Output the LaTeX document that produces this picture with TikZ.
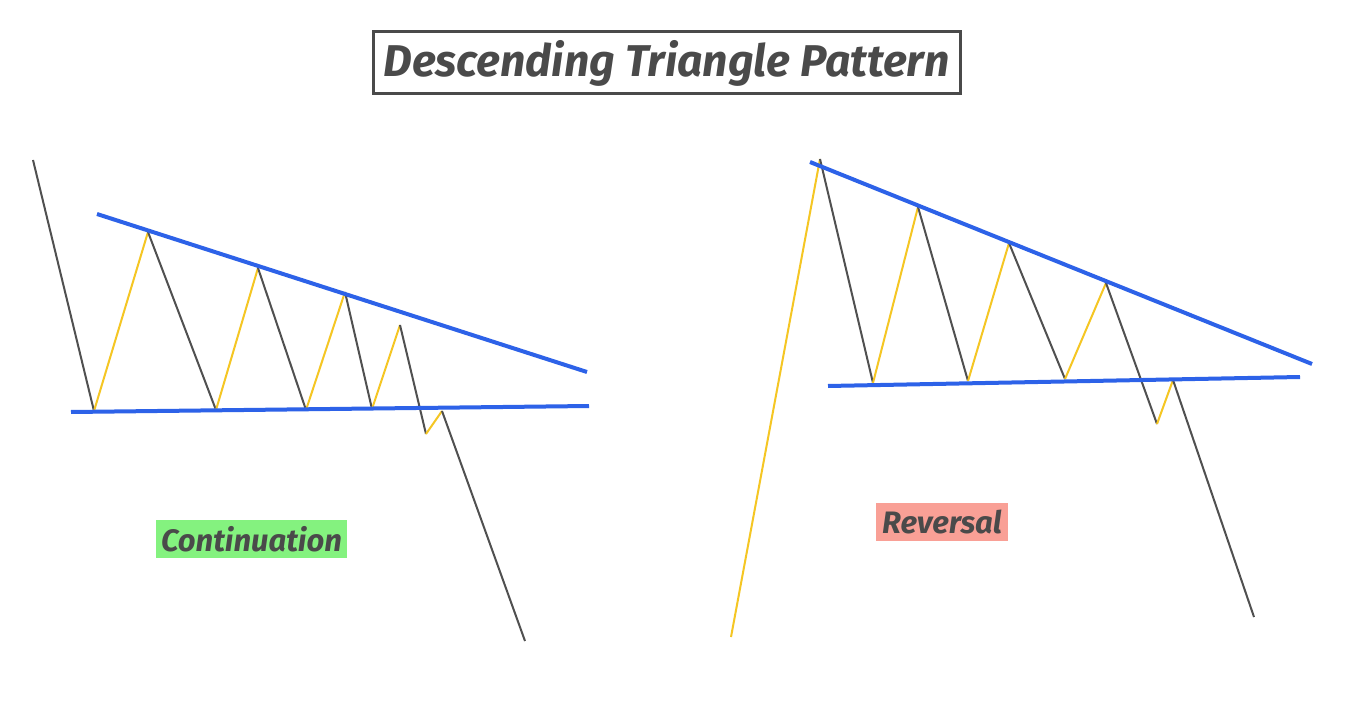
\documentclass[tikz,border=0pt]{standalone}
\usepackage{fontspec}
\setmainfont{Fira Sans}
\definecolor{trend}{HTML}{2D62E8}
\definecolor{upleg}{HTML}{F5C623}
\definecolor{downleg}{HTML}{505050}
\definecolor{txt}{HTML}{4A4A4A}
\definecolor{greenbg}{HTML}{84F27F}
\definecolor{redbg}{HTML}{F9A096}
\tikzset{
  trendline/.style={trend, line width=4pt, line cap=butt},
  up/.style={upleg, line width=2pt},
  down/.style={downleg, line width=2pt},
  tag/.style={font=\bfseries\itshape\fontsize{31}{34}\selectfont, text=txt, inner xsep=4pt, inner ysep=2pt},
}
\begin{document}
\begin{tikzpicture}[x=1pt,y=-1pt]
\useasboundingbox (0,0) rectangle (1349,703);
\fill[white] (0,0) rectangle (1349,703);
% title
\node[draw=txt, line width=3pt, text=txt, minimum width=587pt, minimum height=62pt, inner sep=2pt,
  font=\bfseries\itshape\fontsize{44.5}{48}\selectfont] (title) at (666.5,63) {Descending Triangle Pattern};
% left pattern
\coordinate (a0) at (33,160);
\coordinate (a1) at (94,411);
\coordinate (a2) at (148,232);
\coordinate (a3) at (216,410);
\coordinate (a4) at (258,268);
\coordinate (a5) at (306,410);
\coordinate (a6) at (345,292);
\coordinate (a7) at (372,409);
\coordinate (a8) at (400,325);
\coordinate (a9) at (426,434);
\coordinate (a10) at (442,411);
\coordinate (a11) at (525,641);
\draw[down] (a0) -- (a1);
\draw[up] (a1) -- (a2);
\draw[down] (a2) -- (a3);
\draw[up] (a3) -- (a4);
\draw[down] (a4) -- (a5);
\draw[up] (a5) -- (a6);
\draw[down] (a6) -- (a7);
\draw[up] (a7) -- (a8);
\draw[down] (a8) -- (a9);
\draw[up] (a9) -- (a10);
\draw[down] (a10) -- (a11);
\coordinate (lt1) at (97,214);
\coordinate (lt2) at (587,372);
\coordinate (lb1) at (71,412);
\coordinate (lb2) at (589,406);
\draw[trendline] (lt1) -- (lt2);
\draw[trendline] (lb1) -- (lb2);
% right pattern
\coordinate (b0) at (731,637);
\coordinate (b1) at (820,159);
\coordinate (b2) at (873,383);
\coordinate (b3) at (918,207);
\coordinate (b4) at (968,381);
\coordinate (b5) at (1009,243);
\coordinate (b6) at (1065,379);
\coordinate (b7) at (1106,283);
\coordinate (b8) at (1157,424);
\coordinate (b9) at (1173,380);
\coordinate (b10) at (1254,617);
\draw[up] (b0) -- (b1);
\draw[down] (b1) -- (b2);
\draw[up] (b2) -- (b3);
\draw[down] (b3) -- (b4);
\draw[up] (b4) -- (b5);
\draw[down] (b5) -- (b6);
\draw[up] (b6) -- (b7);
\draw[down] (b7) -- (b8);
\draw[up] (b8) -- (b9);
\draw[down] (b9) -- (b10);
\coordinate (rt1) at (810,162);
\coordinate (rt2) at (1312,364);
\coordinate (rb1) at (828,386);
\coordinate (rb2) at (1300,377);
\draw[trendline] (rt1) -- (rt2);
\draw[trendline] (rb1) -- (rb2);
% labels
\node[tag, fill=greenbg, minimum width=191pt, minimum height=38pt] (cont) at (251.5,539) {Continuation};
\node[tag, fill=redbg, minimum width=132pt, minimum height=38pt] (rev) at (942,522) {Reversal};
\end{tikzpicture}
\end{document}
